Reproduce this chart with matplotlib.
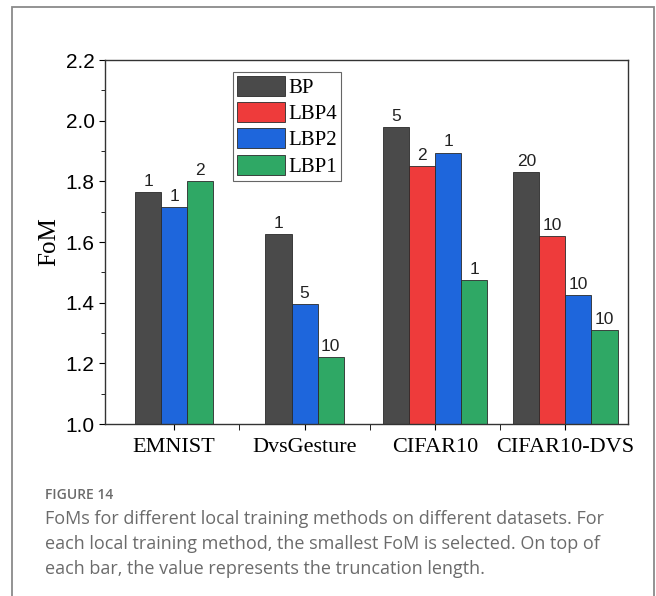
import numpy as np
import matplotlib.pyplot as plt
from matplotlib.patches import Rectangle

# data (nan = method not shown for that dataset)
datasets = ['EMNIST', 'DvsGesture', 'CIFAR10', 'CIFAR10-DVS']
methods = ['BP', 'LBP4', 'LBP2', 'LBP1']
fom_bp = [1.765, 1.625, 1.98, 1.83]
fom_lbp4 = [np.nan, np.nan, 1.85, 1.62]
fom_lbp2 = [1.715, 1.395, 1.895, 1.425]
fom_lbp1 = [1.80, 1.22, 1.475, 1.31]
trunc_bp = ['1', '1', '5', '20']
trunc_lbp4 = ['', '', '2', '10']
trunc_lbp2 = ['1', '5', '1', '10']
trunc_lbp1 = ['2', '10', '1', '10']

colors = ['#4a4a4a', '#ee3b3b', '#1e66dc', '#2fa865']

values = [fom_bp, fom_lbp4, fom_lbp2, fom_lbp1]
truncs = [trunc_bp, trunc_lbp4, trunc_lbp2, trunc_lbp1]

fig = plt.figure(figsize=(6.56, 5.96), dpi=100)

# outer frame of the figure panel
fig.patches.append(Rectangle((12 / 656, -0.05), 642 / 656, 1.05 - 7 / 596,
                             transform=fig.transFigure, fill=False,
                             edgecolor='#8a8a8a', linewidth=1.3))

ax = fig.add_axes([105 / 656, 1 - 424 / 596, 523 / 656, 364 / 596])

w = 0.2
drawn = set()
for g in range(len(datasets)):
    present = [m for m in range(len(methods)) if not np.isnan(values[m][g])]
    n = len(present)
    for k, m in enumerate(present):
        x = g + 1 + (k - (n - 1) / 2) * w
        lab = methods[m] if m not in drawn else None
        drawn.add(m)
        ax.bar(x, values[m][g] - 1.0, bottom=1.0, width=w, color=colors[m],
               edgecolor='#2a2a2a', linewidth=0.6, label=lab)
        ax.text(x, values[m][g] + 0.01, truncs[m][g], ha='center', va='bottom',
                fontsize=12.5, family='Liberation Sans', color='#222222')

# legend for all four methods (LBP4 appears only later)
handles, labels = ax.get_legend_handles_labels()
order = [labels.index(m) for m in methods]
leg = ax.legend([handles[i] for i in order], [labels[i] for i in order],
                loc='upper left', bbox_to_anchor=(0.245, 0.968),
                prop={'family': 'Liberation Serif', 'size': 15},
                handlelength=2.3, handleheight=1.1, labelspacing=0.2,
                handletextpad=0.15, borderpad=0.2, borderaxespad=0,
                fancybox=False, framealpha=1, edgecolor='#666666')
leg.get_frame().set_linewidth(0.8)

ax.set_xlim(0.47, 4.48)
ax.set_ylim(1.0, 2.2)
ax.set_xticks(range(1, 5))
ax.set_xticklabels(datasets, family='Liberation Serif', fontsize=16)
ax.set_xticks([1.5, 2.5, 3.5], minor=True)
ax.tick_params(axis='x', which='major', length=4, direction='out', pad=6)
ax.tick_params(axis='x', which='minor', length=4, direction='out')
ax.set_yticks(np.arange(1.0, 2.21, 0.2))
ax.set_yticks(np.arange(1.1, 2.2, 0.2), minor=True)
ax.set_yticklabels([f'{v:.1f}' for v in np.arange(1.0, 2.21, 0.2)],
                   family='Liberation Sans', fontsize=15)
ax.tick_params(axis='y', which='major', length=4, direction='out')
ax.tick_params(axis='y', which='minor', length=3, direction='out')
ax.set_ylabel('FoM', family='Liberation Serif', fontsize=18, labelpad=4)
for s in ax.spines.values():
    s.set_linewidth(1.0)
    s.set_color('#333333')

# caption
cap_kw = dict(transform=fig.transFigure, ha='left', va='baseline',
              family='Open Sans', color='#6b6b6b')
fig.text(45 / 656, 1 - 499 / 596, 'FIGURE 14', fontsize=10,
         fontweight='semibold', **cap_kw)
caption = ['FoMs for different local training methods on different datasets. For',
           'each local training method, the smallest FoM is selected. On top of',
           'each bar, the value represents the truncation length.']
for i, line in enumerate(caption):
    fig.text(45 / 656, 1 - (524 + 25 * i) / 596, line, fontsize=13, **cap_kw)

fig.savefig('out.png', dpi=100)
